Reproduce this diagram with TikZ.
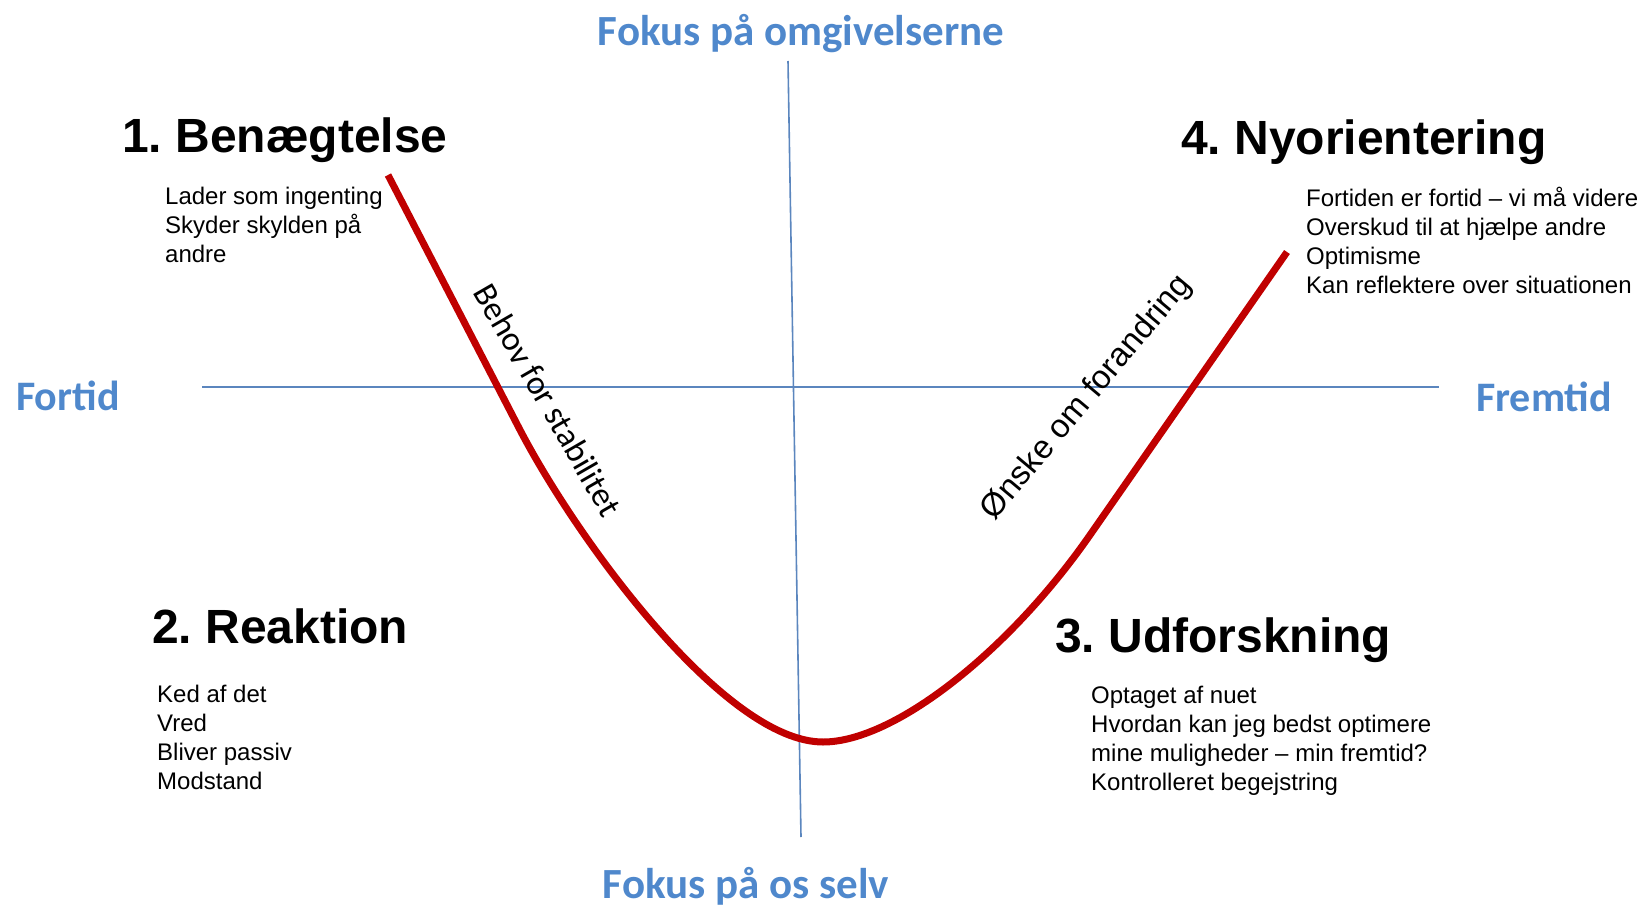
\documentclass[tikz,border=0pt]{standalone}
\usepackage{fontspec}
\setmainfont{Liberation Sans}
\newfontfamily\calibrifont{Carlito}
\usetikzlibrary{positioning}
\definecolor{kblue}{HTML}{4F88CC}
\definecolor{kaxis}{HTML}{5B86BE}
\definecolor{kred}{HTML}{C00000}
\tikzset{
  fase/.style={anchor=base west, inner sep=0pt, font=\fontsize{48}{56}\selectfont\bfseries},
  punkt/.style={anchor=base west, inner sep=0pt, align=left,
                font=\fontsize{24}{28.7}\selectfont},
  fokus/.style={anchor=base, inner sep=0pt, text=kblue,
                font=\fontsize{43}{50}\selectfont\calibrifont\bfseries},
  akse/.style={kaxis, line width=1.6pt},
  kurve/.style={kred, line width=7pt},
}

\begin{document}
\frenchspacing
\begin{tikzpicture}[x=1pt, y=-1pt,
   tid/.style={fokus, font=\fontsize{42}{50}\selectfont\calibrifont\bfseries},
   skraa/.style={inner sep=0pt, font=\fontsize{33}{40}\selectfont}]
  \useasboundingbox (0,0) rectangle (1647,907);

  % akser
  \coordinate (yTop) at (788,61);
  \coordinate (yBot) at (801,837);
  \coordinate (xL) at (202,387);
  \coordinate (xR) at (1439,387);
  \draw[akse] (yTop) -- (yBot);
  \draw[akse] (xL) -- (xR);

  \node[fokus] (top) at (801,46) {Fokus på omgivelserne};
  \node[fokus] (bund) at (746,898) {Fokus på os selv};
  \node[tid, anchor=base west] (fortid) at (16,410) {Fortid};
  \node[tid, anchor=base west] (fremtid) at (1476,411) {Fremtid};

  % forandringskurven
  \coordinate (k0) at (388,175);
  \coordinate (k1) at (519,428);
  \coordinate (bund0) at (823,742);
  \coordinate (k2) at (1090,535);
  \coordinate (k3) at (1287,252);
  \draw[kurve] (k0) -- (k1)
    .. controls (577,540) and (725,742) .. (bund0)
    .. controls (895,742) and (1010,650) .. (k2) -- (k3);

  \node[skraa, rotate=-60, font=\fontsize{34}{40}\selectfont\calibrifont] (behov) at (548,400) {Behov for stabilitet};
  \node[skraa, rotate=50] (onske) at (1087,398) {Ønske om forandring};

  % de fire faser
  \node[fase] (f1) at (122,152) {1. Benægtelse};
  \node[punkt] (p1) at (165,262) {Lader som ingenting\\Skyder skylden på\\andre};

  \node[fase] (f4) at (1181,154) {4. Nyorientering};
  \node[punkt] (p4) at (1306,293) {Fortiden er fortid -- vi må videre\\Overskud til at hjælpe andre\\Optimisme\\Kan reflektere over situationen};

  \node[fase] (f2) at (152,643) {2. Reaktion};
  \node[punkt] (p2) at (157,789) {Ked af det\\Vred\\Bliver passiv\\Modstand};

  \node[fase] (f3) at (1055,652) {3. Udforskning};
  \node[punkt] (p3) at (1091,790) {Optaget af nuet\\Hvordan kan jeg bedst optimere\\mine muligheder -- min fremtid?\\Kontrolleret begejstring};
\end{tikzpicture}
\end{document}
